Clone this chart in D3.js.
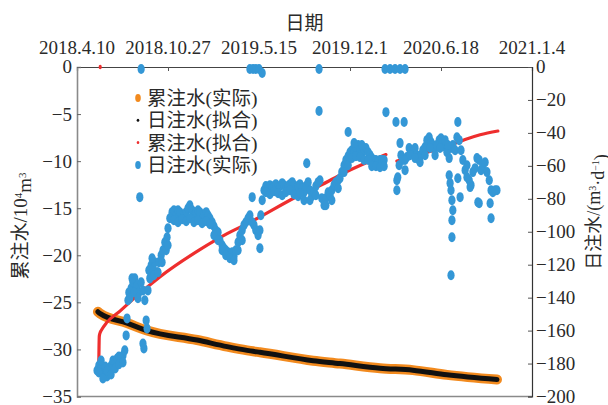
<!DOCTYPE html>
<html>
<head>
<meta charset="utf-8">
<script src="https://cdn.jsdelivr.net/npm/d3@7/dist/d3.min.js"></script>
<style>
  body { margin: 0; background: #fff; }
  svg text { font-family: "Liberation Serif", "Noto Sans CJK SC", serif; fill: #2a2a2a; }
</style>
</head>
<body>
<div id="chart"></div>
<script>
// ---- data -------------------------------------------------------------
// day offsets are counted from the first date tick
const baseDate = "2018-04-10";
const dateTicks = ["2018-04-10", "2018-10-27", "2019-05-15", "2019-12-01", "2020-06-18", "2021-01-04"];
const leftTicks = [0, -5, -10, -15, -20, -25, -30, -35];
const rightTicks = [0, -20, -40, -60, -80, -100, -120, -140, -160, -180, -200];
const seriesNames = ["累注水(实际)", "日注水(拟合)", "累注水(拟合)", "日注水(实际)"];

// cumulative injection, actual (10^4 m3)
const cumActualDays = [46, 51, 110, 154, 264, 330, 374, 387, 402, 519, 578, 666, 738, 813, 923];
const cumActualVals = [-26.0, -26.2, -27.2, -28.0, -29.0, -29.7, -30.1, -30.2, -30.3, -31.2, -31.5, -32.0, -32.2, -32.7, -33.2];

// daily injection, fitted
const dailyFitDays = [46, 51, 110, 154, 264, 330, 374, 387, 402, 519, 578, 666, 738, 813, 923];
const dailyFitVals = [-26.0, -26.2, -27.2, -28.0, -29.0, -29.7, -30.1, -30.2, -30.3, -31.2, -31.5, -32.0, -32.2, -32.7, -33.2];

// cumulative injection, fitted (null = no fitted value)
const cumFitDays = [48, 49, 51, 53, 66, 95, 127, 182, 270, 330, 380, 490, 534, 585, 679, 690, 703, 710, 743, 787, 820, 853, 886, 925];
const cumFitVals = [-31.2, -28.6, -28.2, -28.0, -27.1, -25.9, -24.5, -22.3, -19.4, -17.7, -16.5, -13.6, -12.6, -11.3, -9.3, null, -10.0, -9.9, -9.4, -8.8, -8.3, -7.7, -7.2, -6.8];
const cumFitExtraDays = [51];
const cumFitExtraVals = [0];

// daily injection, actual (m3/d)
const dailyDays = [
  44, 48, 53, 57, 62, 66, 70, 75, 79, 84, 88, 92, 97, 101, 105, 108, 110, 112, 114, 119,
  123, 127, 132, 136, 141, 145, 149, 152, 154, 156, 158, 163, 167, 171, 176, 180, 185, 189, 193, 198,
  200, 204, 209, 213, 218, 222, 226, 231, 235, 240, 244, 248, 253, 257, 262, 266, 270, 275, 279, 284,
  288, 292, 297, 301, 305, 310, 314, 319, 323, 327, 332, 336, 341, 345, 349, 354, 358, 363, 367, 371,
  376, 380, 385, 389, 393, 398, 402, 404, 407, 411, 415, 420, 424, 429, 433, 437, 442, 446, 451, 455,
  459, 464, 468, 473, 477, 481, 486, 490, 495, 499, 503, 508, 512, 516, 521, 525, 530, 534, 538, 543,
  547, 552, 556, 560, 565, 569, 574, 578, 582, 587, 591, 596, 600, 604, 609, 613, 618, 622, 626, 631,
  635, 640, 644, 648, 653, 657, 662, 666, 670, 675,
  703, 703, 705, 708, 712, 716, 721, 725, 730, 734, 738, 743, 747, 752, 756, 760, 765, 769, 774, 778,
  782, 787, 791, 796, 800, 804, 809, 813, 818, 818, 820, 822, 822, 824, 826, 826, 824, 824, 822, 831,
  835, 840, 844, 848, 853, 857, 862, 866, 870, 875, 879, 884, 888, 892, 897, 901, 906, 910, 914, 919,
  923, 837, 842, 857, 864, 881, 884, 908, 910,
  // scattered readings
  138, 141, 145, 147, 380, 387, 393, 400, 407, 385, 402, 505, 532, 532, 596, 679, 677, 688, 699, 710,
  721, 701, 719, 837, 710,
  // second readings on the same days
  48, 53, 57, 62, 66, 75, 84, 92, 101, 116, 121, 125, 134, 160, 165, 169, 178, 187, 196, 200,
  213, 222, 231, 240, 248, 257, 266, 275, 284, 292, 301, 310, 319, 327, 336, 345, 354, 363,
  415, 424, 433, 442, 451, 459, 468, 477, 486, 490, 499, 512, 525, 547, 560, 574,
  587, 596, 604, 609, 613, 622, 626, 631, 640, 648, 657, 666, 675,
  721, 732, 743, 754, 765, 776, 787, 798, 809, 815
];
const dailyVals = [
  -184.2, -181.2, -183.0, -185.4, -187.2, -187.8, -184.2, -181.2, -178.1, -179.3, -176.9, -175.7, -176.3, -175.1, -172.0, -162.9, -152.6, -141.6, -136.8, -134.3,
  -130.7, -128.3, -132.5, -136.8, -130.7, -135.6, -141.6, -153.8, -158.7, -135.6, -123.4, -120.4, -122.2, -118.5, -124.6, -118.5, -114.3, -111.2, -106.4, -103.3,
  -97.9, -91.8, -88.1, -86.9, -90.0, -86.9, -88.1, -91.8, -89.4, -88.1, -85.7, -83.9, -86.9, -90.0, -88.1, -86.9, -88.1, -91.8, -89.4, -88.1,
  -90.0, -91.8, -94.2, -96.7, -99.1, -100.3, -105.2, -108.2, -110.0, -111.2, -112.5, -113.7, -112.5, -114.9, -111.2, -106.4, -102.1, -99.1, -96.0, -94.2,
  -91.8, -90.0, -94.2, -96.0, -99.1, -102.1, -99.1, -90.0, -80.9, -74.8, -72.3, -73.6, -71.7, -73.6, -72.3, -71.1, -72.9, -72.3, -70.5, -71.7,
  -73.6, -72.3, -71.1, -69.9, -71.7, -73.6, -72.3, -71.1, -73.6, -76.0, -72.3, -69.9, -74.8, -78.4, -76.0, -72.3, -69.9, -68.7, -79.6, -83.9,
  -79.6, -76.0, -77.8, -74.8, -71.7, -69.9, -68.7, -67.5, -63.8, -59.6, -56.5, -54.1, -51.7, -50.5, -51.7, -49.2, -47.4, -50.5, -52.3, -50.5,
  -49.2, -51.7, -53.5, -55.3, -56.5, -56.5, -57.1, -56.5, -56.5, -56.5,
  -68.7, -74.8, -66.9, -59.6, -53.5, -56.5, -62.6, -54.7, -49.2, -50.5, -51.7, -49.2, -53.5, -56.5, -53.5, -50.5, -48.6, -44.4, -42.6, -45.6,
  -47.4, -49.2, -47.4, -44.4, -43.2, -45.6, -48.6, -51.7, -55.3, -65.7, -70.5, -74.8, -49.2, -80.9, -86.9, -47.4, -93.0, -103.3, -126.4, -50.5,
  -42.6, -44.4, -50.5, -56.5, -62.6, -59.6, -68.7, -71.7, -63.8, -61.4, -55.3, -56.5, -62.6, -59.6, -57.8, -63.8, -68.7, -74.8, -76.0, -74.8,
  -74.8, -67.5, -79.0, -66.9, -72.9, -82.1, -82.7, -82.7, -91.8,
  // scattered readings
  -79.0, -1.2, -167.8, -170.8, -1.2, -1.2, -1.2, -1.2, -3.6, -79.0, -110.0, -58.4, -26.7, -1.2, -39.5, -27.4, -1.2, -1.2, -1.2, -1.2,
  -1.2, -33.4, -33.4, -33.4, -46.2,
  // second readings on the same days
  -185.4, -178.1, -189.1, -181.8, -184.2, -186.6, -183.0, -180.5, -179.3, -140.4, -128.3, -136.8, -140.4, -128.3, -116.1, -126.4, -124.6, -118.5, -111.2, -108.2,
  -93.0, -94.2, -92.4, -93.6, -91.8, -94.2, -93.0, -94.8, -93.6, -95.4, -102.1, -105.2, -111.2, -114.3, -116.1, -117.3, -111.2, -105.2,
  -76.0, -77.2, -75.4, -76.6, -77.8, -76.0, -74.8, -77.2, -78.4, -76.6, -80.9, -80.9, -77.8, -83.9, -80.9, -73.6,
  -63.8, -59.6, -55.3, -46.2, -54.1, -54.7, -47.4, -56.5, -56.5, -60.2, -60.2, -60.8, -60.2,
  -56.5, -53.5, -55.3, -57.8, -53.5, -49.2, -53.5, -49.2, -44.4, -47.4
];

// ---- layout -----------------------------------------------------------
const W = 608, H = 405;
const M = { left: 77, right: 532, top: 67, bottom: 396.5 };
const colors = { orange: "#F28A1E", black: "#111111", red: "#EE2E2E", blue: "#3497D6" };

const svg = d3.select("#chart").append("svg").attr("width", W).attr("height", H);

const parseDay = d3.utcParse("%Y-%m-%d");
const base = parseDay(baseDate);
const toDate = d => d3.utcDay.offset(base, d);

const x = d3.scaleUtc()
  .domain([parseDay(dateTicks[0]), parseDay(dateTicks[dateTicks.length - 1])])
  .range([M.left, M.right]);
const yL = d3.scaleLinear().domain([-35, 0]).range([M.bottom, M.top]);
const yR = d3.scaleLinear().domain([-200, 0]).range([M.bottom, M.top]);

const fmtDate = d => `${d.getUTCFullYear()}.${d.getUTCMonth() + 1}.${d.getUTCDate()}`;

// ---- axes -------------------------------------------------------------
const tickFont = "19px";

// bottom frame line
svg.append("line").attr("x1", M.left).attr("x2", M.right)
  .attr("y1", M.bottom).attr("y2", M.bottom)
  .attr("stroke", "#8a8a8a").attr("stroke-width", 1.6);

const topAxis = svg.append("g").attr("transform", `translate(0,${M.top})`)
  .call(d3.axisBottom(x).tickValues(dateTicks.map(parseDay)).tickSize(4).tickFormat(() => ""));
topAxis.select(".domain").attr("stroke", "#444").attr("stroke-width", 1.2);
topAxis.selectAll(".tick line").attr("stroke", "#555");
svg.append("g").selectAll("text").data(dateTicks.map(parseDay)).join("text")
  .attr("x", d => x(d)).attr("y", 54)
  .attr("text-anchor", "middle").style("font-size", tickFont)
  .text(fmtDate);

const leftAxis = svg.append("g").attr("transform", `translate(${M.left},0)`)
  .call(d3.axisRight(yL).tickValues(leftTicks).tickSize(4).tickFormat(() => ""));
leftAxis.select(".domain").attr("stroke", "#8a8a8a").attr("stroke-width", 1.6);
leftAxis.selectAll(".tick line").attr("stroke", "#666");
svg.append("g").selectAll("text").data(leftTicks).join("text")
  .attr("x", 72).attr("y", d => yL(d)).attr("dy", "0.34em")
  .attr("text-anchor", "end").style("font-size", tickFont)
  .text(d3.format("d"));

const rightAxis = svg.append("g").attr("transform", `translate(${M.right},0)`)
  .call(d3.axisLeft(yR).tickValues(rightTicks).tickSize(4).tickFormat(() => ""));
rightAxis.select(".domain").attr("stroke", "#333").attr("stroke-width", 1.2);
rightAxis.selectAll(".tick line").attr("stroke", "#555");
svg.append("g").selectAll("text").data(rightTicks).join("text")
  .attr("x", 536).attr("y", d => yR(d)).attr("dy", "0.34em")
  .attr("text-anchor", "start").style("font-size", tickFont)
  .text(d3.format("d"));

// axis titles
svg.append("text").attr("x", (M.left + M.right) / 2).attr("y", 30)
  .attr("text-anchor", "middle").style("font-size", "19px").text("日期");

const lt = svg.append("text")
  .attr("transform", "translate(27,226) rotate(-90)")
  .attr("text-anchor", "middle").style("font-size", "19px");
lt.append("tspan").text("累注水/10");
lt.append("tspan").attr("dy", "-0.45em").style("font-size", "11px").text("4");
lt.append("tspan").attr("dy", "0.45em").text("m");
lt.append("tspan").attr("dy", "-0.45em").style("font-size", "11px").text("3");

const rt = svg.append("text")
  .attr("transform", "translate(600,212) rotate(-90)")
  .attr("text-anchor", "middle").style("font-size", "18px");
rt.append("tspan").text("日注水/(m");
rt.append("tspan").attr("dy", "-0.45em").style("font-size", "10px").text("3");
rt.append("tspan").attr("dy", "0.45em").text("·d");
rt.append("tspan").attr("dy", "-0.45em").style("font-size", "10px").text("−1");
rt.append("tspan").attr("dy", "0.45em").text(")");

// ---- series -----------------------------------------------------------
const zip = (ds, vs) => ds.map((d, i) => ({ date: toDate(d), v: vs[i] }));

const lineL = d3.line().defined(p => p.v !== null).x(p => x(p.date)).y(p => yL(p.v)).curve(d3.curveMonotoneX);

// cumulative actual: wide orange band
svg.append("path").datum(zip(cumActualDays, cumActualVals))
  .attr("d", lineL).attr("fill", "none")
  .attr("stroke", colors.orange).attr("stroke-width", 10).attr("stroke-linecap", "round");

// daily fit: black core
svg.append("path").datum(zip(dailyFitDays, dailyFitVals))
  .attr("d", lineL).attr("fill", "none")
  .attr("stroke", colors.black).attr("stroke-width", 5).attr("stroke-linecap", "round");

// cumulative fit: red
svg.append("path").datum(zip(cumFitDays, cumFitVals))
  .attr("d", lineL).attr("fill", "none")
  .attr("stroke", colors.red).attr("stroke-width", 3.2).attr("stroke-linecap", "round");
svg.append("g").selectAll("ellipse").data(zip(cumFitExtraDays, cumFitExtraVals)).join("ellipse")
  .attr("cx", p => x(p.date)).attr("cy", p => yL(p.v))
  .attr("rx", 1.6).attr("ry", 2.2).attr("fill", colors.red);

// daily actual: blue dots on the right axis
svg.append("g").selectAll("ellipse").data(zip(dailyDays, dailyVals)).join("ellipse")
  .attr("cx", p => x(p.date)).attr("cy", p => yR(p.v))
  .attr("rx", 3.6).attr("ry", 5.0).attr("fill", colors.blue);

// ---- legend -----------------------------------------------------------
const legend = svg.append("g");
const legendRows = [
  { name: seriesNames[0], color: colors.orange, rx: 2.8, ry: 4.0 },
  { name: seriesNames[1], color: colors.black, rx: 1.3, ry: 1.5 },
  { name: seriesNames[2], color: colors.red, rx: 1.3, ry: 1.5 },
  { name: seriesNames[3], color: colors.blue, rx: 2.8, ry: 4.0 }
];
legendRows.forEach((r, i) => {
  const yy = 98 + i * 22.3;
  legend.append("ellipse").attr("cx", 138).attr("cy", yy).attr("rx", r.rx).attr("ry", r.ry).attr("fill", r.color);
  legend.append("text").attr("x", 147).attr("y", yy).attr("dy", "0.36em")
    .style("font-size", "19.5px").text(r.name);
});
</script>
</body>
</html>
